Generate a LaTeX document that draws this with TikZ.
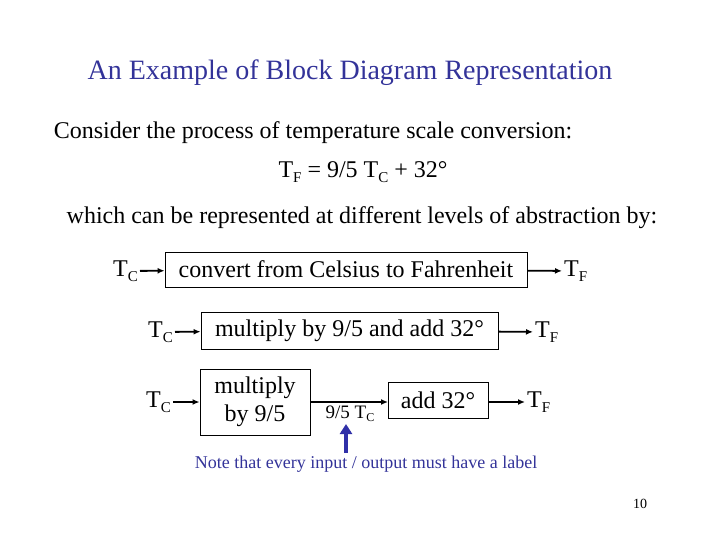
\documentclass[tikz,border=0pt]{standalone}
\usepackage{fontspec}
\setmainfont{Liberation Serif}
\usetikzlibrary{arrows.meta}
\definecolor{titleblue}{HTML}{333399}
\definecolor{arrowblue}{HTML}{3030A8}
\newcommand\lowsub[1]{\raisebox{-0.45ex}{\fontsize{15}{15}\selectfont #1}}
\newcommand\smallsub[1]{\raisebox{-0.35ex}{\fontsize{12}{12}\selectfont #1}}
\tikzset{
  txt/.style={inner sep=0pt, anchor=base},
  blk/.style={draw, line width=0.9pt, inner sep=0pt, font=\fontsize{24}{26}\selectfont, align=center},
  sig/.style={inner sep=2pt, font=\fontsize{24}{26}\selectfont},
  conn/.style={line width=1.8pt, -{Latex[length=7pt,width=6pt]}}
}
\begin{document}
\begin{tikzpicture}[x=1pt,y=-1pt]
\useasboundingbox (0,0) rectangle (720,540);
% texts
\node[txt, font=\fontsize{28}{32}\selectfont, text=titleblue] (title) at (350,80) {An Example of Block Diagram Representation};
\node[txt, font=\fontsize{24}{28}\selectfont] (l2) at (313,139) {Consider the process of temperature scale conversion:};
\node[txt, font=\fontsize{24}{28}\selectfont] (l3) at (363,178) {T\lowsub{F} = 9/5 T\lowsub{C} + 32°};
\node[txt, font=\fontsize{24}{28}\selectfont] (l4) at (362,224) {which can be represented at different levels of abstraction by:};
% row 1
\node[blk, minimum width=362, minimum height=35] (b1) at (346,269.5) {convert from Celsius to Fahrenheit};
\node[sig, anchor=east] (tc1) at (140,271) {T\lowsub{C}};
\node[sig, anchor=west] (tf1) at (562,271) {T\lowsub{F}};
\draw[conn] (tc1) -- (b1);
\draw[conn] (b1) -- (tf1);
% row 2
\node[blk, minimum width=297, minimum height=37] (b2) at (349.5,330.5) {multiply by 9/5 and add 32°};
\node[sig, anchor=east] (tc2) at (175,332) {T\lowsub{C}};
\node[sig, anchor=west] (tf2) at (533,332) {T\lowsub{F}};
\draw[conn] (tc2) -- (b2);
\draw[conn] (b2) -- (tf2);
% row 3
\node[blk, minimum width=110, minimum height=66, font=\fontsize{24}{28}\selectfont] (b3a) at (255,402) {multiply\\by 9/5};
\node[blk, minimum width=100, minimum height=36] (b3b) at (438,400) {add 32°};
\node[sig, anchor=east] (tc3) at (173,402) {T\lowsub{C}};
\node[sig, anchor=west] (tf3) at (525,402) {T\lowsub{F}};
\coordinate (m3) at (388,402);
\draw[conn] (tc3) -- (tc3 -| b3a.west);
\draw[conn] (b3a.east |- m3) -- (m3);
\draw[conn] (b3b.east |- tf3) -- (tf3);
\node[txt, font=\fontsize{19}{22}\selectfont] (mid) at (350,418) {9/5 T\smallsub{C}};
% note
\coordinate (na) at (346,453);
\coordinate (nb) at (346,424);
\draw[arrowblue, line width=4pt, -{Triangle[length=10pt,width=12pt]}] (na) -- (nb);
\node[txt, font=\fontsize{18}{21}\selectfont, text=titleblue] (note) at (366,468) {Note that every input / output must have a label};
\node[txt, font=\fontsize{14}{16}\selectfont] (pg) at (640,508) {10};
\end{tikzpicture}
\end{document}
